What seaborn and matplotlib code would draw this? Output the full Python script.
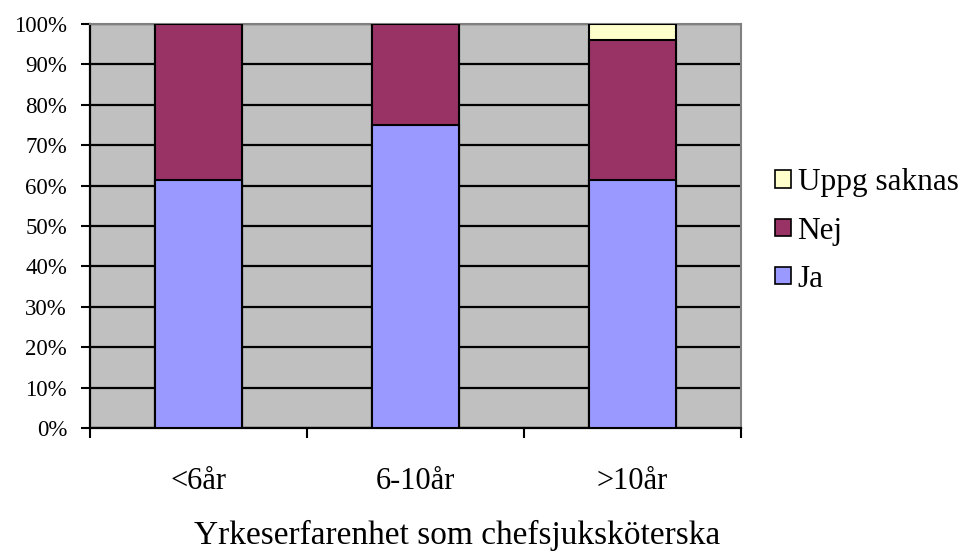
import matplotlib
matplotlib.use("Agg")
import matplotlib.pyplot as plt
import seaborn as sns
import pandas as pd
from matplotlib.patches import Patch
from matplotlib.ticker import FixedLocator, FuncFormatter

categories = ["<6år", "6-10år", ">10år"]
ja = [61.5, 75.0, 61.5]
nej = [38.5, 25.0, 34.6]
uppg_saknas = [0.0, 0.0, 3.9]
y_ticks = [0, 10, 20, 30, 40, 50, 60, 70, 80, 90, 100]

series_names = ["Ja", "Nej", "Uppg saknas"]
series_colors = {"Ja": "#9999FF", "Nej": "#993366", "Uppg saknas": "#FFFFCC"}

df = pd.DataFrame({"kategori": categories, "Ja": ja, "Nej": nej, "Uppg saknas": uppg_saknas})
# cumulative tops for stacking
df["cum_Ja"] = df["Ja"]
df["cum_Nej"] = df["cum_Ja"] + df["Nej"]
df["cum_Uppg saknas"] = df["cum_Nej"] + df["Uppg saknas"]

sns.set_style("white")
plt.rcParams["font.family"] = ["Liberation Serif", "DejaVu Serif"]
plt.rcParams.update({"text.color": "black", "axes.labelcolor": "black",
                     "xtick.color": "black", "ytick.color": "black"})

fig = plt.figure(figsize=(9.65, 5.51), dpi=100)
ax = fig.add_axes([90 / 965, (551 - 428) / 551, 651 / 965, 404 / 551])
ax.set_facecolor("#C0C0C0")

for name in reversed(series_names):
    sns.barplot(data=df, x="kategori", y=f"cum_{name}", color=series_colors[name],
                width=0.4, edgecolor="black", linewidth=1.5, saturation=1,
                order=categories, ax=ax, zorder=3)

ax.set_ylim(0, 100)
ax.set_xlim(-0.5, 2.5)
ax.yaxis.set_major_locator(FixedLocator(y_ticks))
ax.yaxis.set_major_formatter(FuncFormatter(lambda v, p: f"{v:.0f}%"))
ax.yaxis.grid(True, color="black", linewidth=1.6, zorder=1)
ax.set_axisbelow(True)

# category boundaries carry the tick marks, labels sit centred between them
ax.xaxis.set_major_locator(FixedLocator([-0.5, 0.5, 1.5, 2.5]))
ax.xaxis.set_major_formatter(FuncFormatter(lambda v, p: ""))
ax.xaxis.set_minor_locator(FixedLocator([0, 1, 2]))
ax.xaxis.set_minor_formatter(FuncFormatter(lambda v, p: categories[int(round(v))]))
ax.tick_params(axis="x", which="major", length=7, width=1.5, color="black", direction="out")
ax.tick_params(axis="x", which="minor", length=0, pad=28, labelsize=22, labelcolor="black")
ax.tick_params(axis="y", which="major", length=6.5, width=1.5, color="black", direction="out",
               labelsize=16.5, pad=10, labelcolor="black")
ax.tick_params(left=True, bottom=True)

ax.set_xlabel("Yrkeserfarenhet som chefsjuksköterska", fontsize=24, color="black")
ax.xaxis.set_label_coords((457 - 90) / 651, -0.228)
ax.set_ylabel("")

for side in ("top", "right"):
    ax.spines[side].set_visible(True)
    ax.spines[side].set_color("#808080")
    ax.spines[side].set_linewidth(1.5)
for side in ("left", "bottom"):
    ax.spines[side].set_visible(True)
    ax.spines[side].set_color("black")
    ax.spines[side].set_linewidth(1.6)

handles = [Patch(facecolor=series_colors[n], edgecolor="black", linewidth=1.2, label=n)
           for n in reversed(series_names)]
leg = ax.legend(handles=handles, loc="center left", bbox_to_anchor=((775 - 90) / 651, 0.4875),
                frameon=False, fontsize=22.5, handlelength=0.5, handleheight=0.5,
                handletextpad=0.22, labelspacing=0.61, borderpad=0, borderaxespad=0,
                labelcolor="black")

fig.savefig("out.png", dpi=100)
